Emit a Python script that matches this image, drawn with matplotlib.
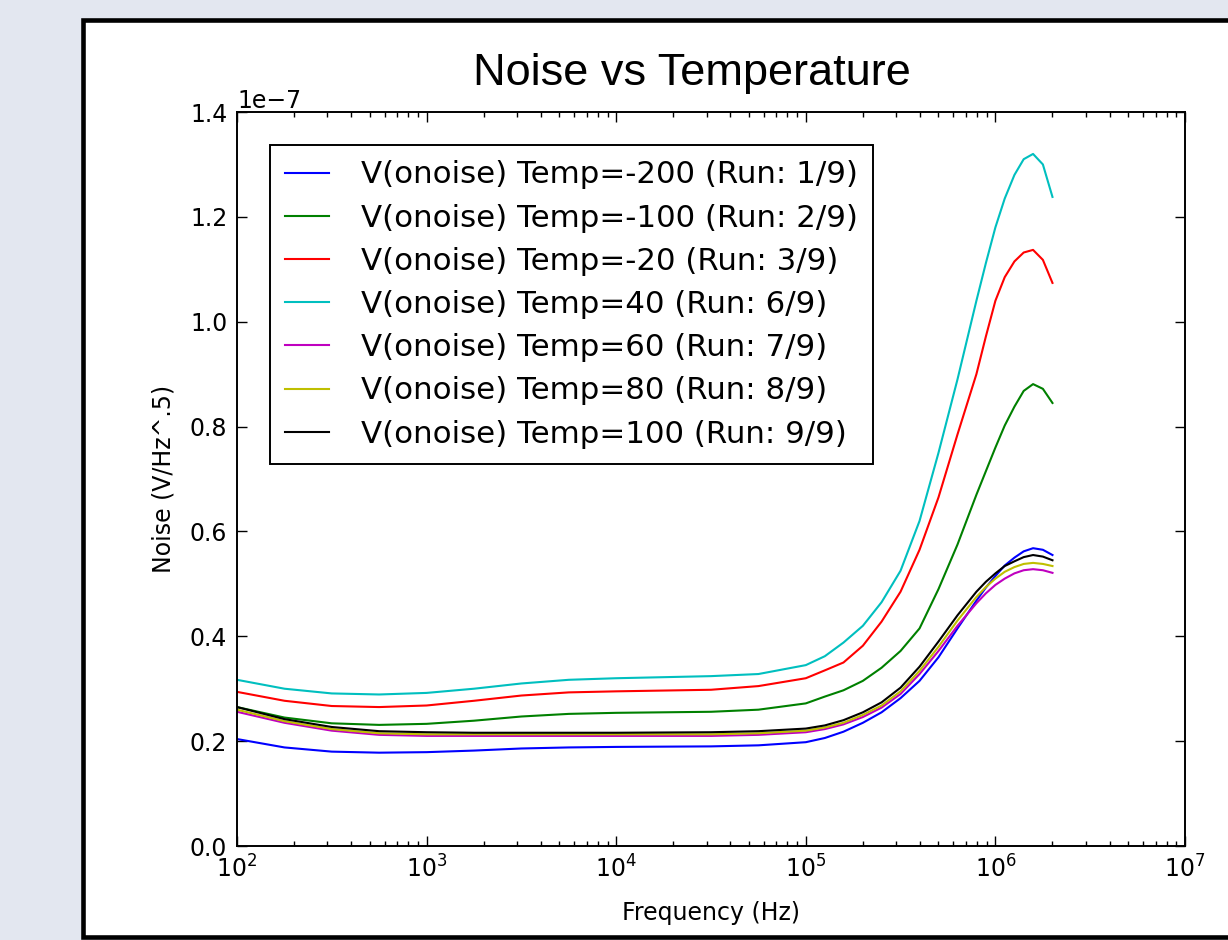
import matplotlib
matplotlib.use("Agg")
import matplotlib.pyplot as plt
from matplotlib.patches import Rectangle
import numpy as np

# Frequencies (Hz)
freqs = [100, 178, 316, 562, 1000, 1778, 3162, 5623, 10000, 31623, 56234,
         1.0e5, 1.26e5, 1.58e5, 2.0e5, 2.51e5, 3.16e5, 3.98e5, 5.01e5, 6.31e5,
         7.94e5, 8.91e5, 1.0e6, 1.12e6, 1.26e6, 1.41e6, 1.58e6, 1.78e6, 2.0e6]

# Noise values in units of 1e-8 V/Hz^.5
temp_m200 = [2.04, 1.88, 1.80, 1.78, 1.79, 1.82, 1.86, 1.88, 1.89, 1.90, 1.92,
             1.98, 2.06, 2.18, 2.35, 2.55, 2.82, 3.15, 3.60, 4.15, 4.68, 4.93,
             5.15, 5.35, 5.50, 5.62, 5.68, 5.65, 5.55]
temp_m100 = [2.65, 2.45, 2.34, 2.31, 2.33, 2.39, 2.47, 2.52, 2.54, 2.56, 2.60,
             2.72, 2.85, 2.97, 3.15, 3.40, 3.72, 4.15, 4.90, 5.75, 6.70, 7.15,
             7.60, 8.02, 8.38, 8.68, 8.81, 8.72, 8.45]
temp_m20 = [2.94, 2.77, 2.67, 2.65, 2.68, 2.77, 2.87, 2.93, 2.95, 2.98, 3.05,
            3.20, 3.35, 3.50, 3.82, 4.28, 4.85, 5.65, 6.65, 7.85, 9.00, 9.72,
            10.40, 10.85, 11.15, 11.32, 11.37, 11.18, 10.74]
temp_40 = [3.17, 3.00, 2.91, 2.89, 2.92, 3.00, 3.10, 3.17, 3.20, 3.24, 3.28,
           3.45, 3.62, 3.88, 4.20, 4.65, 5.25, 6.20, 7.50, 8.90, 10.40, 11.12,
           11.80, 12.35, 12.80, 13.10, 13.20, 13.00, 12.38]
temp_60 = [2.56, 2.35, 2.20, 2.12, 2.10, 2.10, 2.10, 2.10, 2.10, 2.10, 2.12,
           2.17, 2.23, 2.32, 2.46, 2.64, 2.90, 3.28, 3.72, 4.20, 4.63, 4.82,
           4.98, 5.10, 5.20, 5.26, 5.28, 5.26, 5.21]
temp_80 = [2.60, 2.38, 2.23, 2.15, 2.13, 2.13, 2.13, 2.13, 2.13, 2.13, 2.15,
           2.20, 2.26, 2.35, 2.50, 2.68, 2.95, 3.34, 3.80, 4.30, 4.75, 4.94,
           5.10, 5.23, 5.32, 5.38, 5.40, 5.38, 5.34]
temp_100 = [2.65, 2.42, 2.27, 2.19, 2.17, 2.16, 2.16, 2.16, 2.16, 2.17, 2.19,
            2.24, 2.30, 2.40, 2.55, 2.74, 3.02, 3.42, 3.90, 4.40, 4.85, 5.04,
            5.20, 5.34, 5.43, 5.51, 5.55, 5.52, 5.45]

series = [temp_m200, temp_m100, temp_m20, temp_40, temp_60, temp_80, temp_100]
labels = ["V(onoise) Temp=-200 (Run: 1/9)",
          "V(onoise) Temp=-100 (Run: 2/9)",
          "V(onoise) Temp=-20 (Run: 3/9)",
          "V(onoise) Temp=40 (Run: 6/9)",
          "V(onoise) Temp=60 (Run: 7/9)",
          "V(onoise) Temp=80 (Run: 8/9)",
          "V(onoise) Temp=100 (Run: 9/9)"]
colors = ["#0000ff", "#008000", "#ff0000", "#00bfbf", "#bf00bf", "#bfbf00", "#000000"]

plt.rcParams['font.family'] = ['DejaVu Sans']
plt.rcParams['mathtext.fontset'] = 'dejavusans'

W, H = 1228, 940
fig = plt.figure(figsize=(W / 100, H / 100), dpi=100, facecolor="#e3e7f0")

# white slide panel with black border
panel = Rectangle((83 / W, 1 - 937 / H), 1.2, (937 - 19.5) / H,
                  transform=fig.transFigure, facecolor="white",
                  edgecolor="black", linewidth=3.3, zorder=-5)
fig.patches.append(panel)

fig.text(691.5 / W, 1 - 85 / H, "Noise vs Temperature", ha="center",
         va="baseline", fontsize=32.5, family=["Liberation Sans", "DejaVu Sans"])

ax = fig.add_axes([237 / W, 1 - 846 / H, (1185 - 237) / W, (846 - 112) / H])
ax.set_zorder(1)
ax.set_facecolor("white")

for vals, lab, col in zip(series, labels, colors):
    ax.plot(freqs, np.array(vals) * 1e-8, color=col, lw=1.5, label=lab)

ax.set_xscale("log")
ax.set_xlim(1e2, 1e7)
ax.set_ylim(0, 1.4e-7)
ax.set_yticks(np.arange(0, 1.41e-7, 0.2e-7))

for sp in ax.spines.values():
    sp.set_linewidth(1.4)

ax.tick_params(which="both", direction="in", top=True, right=True,
               labelsize=17, width=1.0)
ax.tick_params(which="major", length=7, pad=7)
ax.tick_params(which="minor", length=3.5)
ax.yaxis.get_offset_text().set_fontsize(17)

ax.set_xlabel("Frequency (Hz)", fontsize=17, labelpad=13)
ax.set_ylabel("Noise (V/Hz^.5)", fontsize=17, labelpad=10)

leg = ax.legend(loc="upper left", bbox_to_anchor=((270 - 237) / 948, (846 - 145) / 734),
                borderaxespad=0, fontsize=22.2, fancybox=False, framealpha=1,
                edgecolor="black", handlelength=1.4, handletextpad=1.05,
                borderpad=0.5, labelspacing=0.46)
leg.get_frame().set_linewidth(1.4)

fig.savefig("out.png", dpi=100, facecolor=fig.get_facecolor())
